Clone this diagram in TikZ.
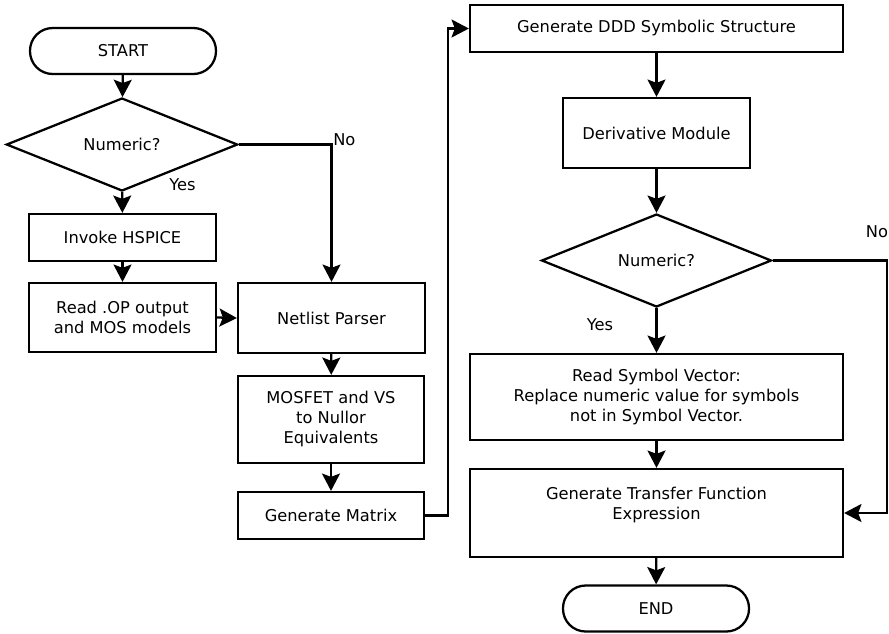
\documentclass[tikz,border=0pt]{standalone}
\usepackage{fontspec}
\setmainfont{DejaVu Sans}
\usetikzlibrary{shapes.geometric,arrows.meta}
\begin{document}
\begin{tikzpicture}[x=0.75pt,y=-0.75pt,
  every node/.style={font=\fontsize{12.2}{15}\selectfont},
  box/.style={draw,line width=1.7pt,rectangle,inner sep=0pt,align=center},
  term/.style={draw,line width=1.7pt,rectangle,rounded corners=17pt,inner sep=0pt,
    minimum width=139.5pt,minimum height=34.5pt},
  decision/.style={draw,line width=1.7pt,diamond,inner sep=0pt,
    minimum width=173.5pt,minimum height=69.75pt},
  flow/.style={line width=1.7pt,-{Stealth[length=13pt,width=13.5pt,inset=2.5pt]}},
  tag/.style={inner sep=0pt}]
\useasboundingbox (0,0) rectangle (889,633);

% left column
\node[term] (start) at (123,51) {START};
\node[decision] (dec1) at (122,144.5) {Numeric?};
\node[box,minimum width=140.25pt,minimum height=35.25pt] (hspice) at (122.5,237.5) {Invoke HSPICE};
\node[box,minimum width=140.25pt,minimum height=51.75pt] (readop) at (122.5,317.5) {Read .OP output\\and MOS models};

% middle column
\node[box,minimum width=140.25pt,minimum height=52.5pt] (netlist) at (331.5,318) {Netlist Parser};
\node[box,minimum width=139.5pt,minimum height=65.25pt] (mosfet) at (331,419.5) {MOSFET and VS\\to Nullor\\Equivalents};
\node[box,minimum width=139.5pt,minimum height=35.25pt] (matrix) at (331,515.5) {Generate Matrix};

% right column
\node[box,minimum width=279.75pt,minimum height=35.25pt] (ddd) at (656.5,28.5) {Generate DDD Symbolic Structure};
\node[box,minimum width=140.25pt,minimum height=52.5pt] (deriv) at (656.5,133) {Derivative Module};
\node[decision,minimum width=172.5pt] (dec2) at (656.5,260.5) {Numeric?};
\node[box,minimum width=279.75pt,minimum height=64.5pt] (readsym) at (656.5,397) {Read Symbol Vector:\\Replace numeric value for symbols\\not in Symbol Vector.};
\node[box,minimum width=279.75pt,minimum height=66pt] (transfer) at (656.5,513) {Generate Transfer Function\\Expression\\\mbox{}};
\node[term] (end) at (656,608.5) {END};

% branch labels
\node[tag,anchor=west] (no1) at (333,139.5) {No};
\node[tag] (yes1) at (182.5,185) {Yes};
\node[tag] (no2) at (877,232) {No};
\node[tag] (yes2) at (600,325) {Yes};

% connectors
\draw[flow] (start) -- (dec1);
\draw[flow] (dec1) -- (hspice);
\draw[flow] (hspice) -- (readop);
\draw[flow] (readop.east) -- (netlist.west);
\draw[flow] (dec1.east) -| (netlist.north);
\draw[flow] (netlist) -- (mosfet);
\draw[flow] (mosfet) -- (matrix);
\coordinate (up) at (448,515.5);
\draw[flow] (matrix.east) -- (up) |- (ddd.west);
\draw[flow] (ddd) -- (deriv);
\draw[flow] (deriv) -- (dec2);
\draw[flow] (dec2) -- (readsym);
\draw[flow] (readsym) -- (transfer);
\draw[flow] (transfer) -- (end);
\coordinate (down) at (887,260.5);
\draw[flow] (dec2.east) -- (down) |- (transfer.east);
\end{tikzpicture}
\end{document}
